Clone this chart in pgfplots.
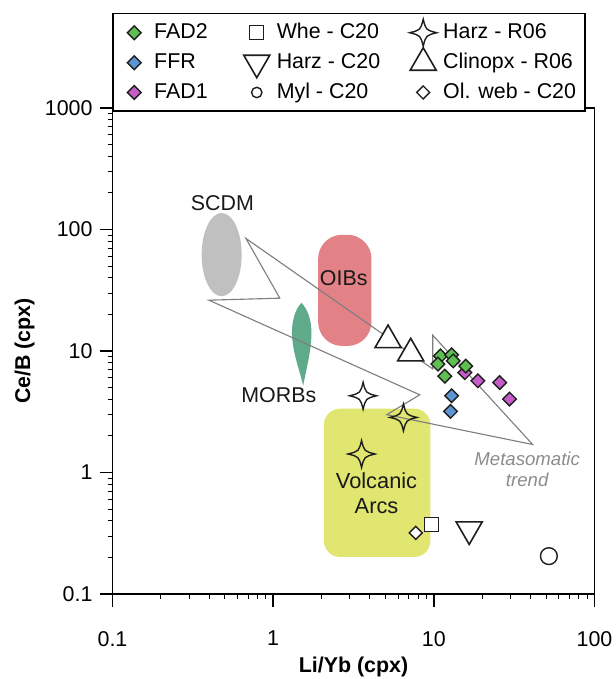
\documentclass[border=0pt]{standalone}
\usepackage{fontspec}
\setmainfont{Liberation Sans}
\usepackage{pgfplots}
\pgfplotsset{compat=1.18}

\definecolor{fadgreen}{RGB}{94,190,82}
\definecolor{ffrblue}{RGB}{92,150,210}
\definecolor{fadpurple}{RGB}{198,92,200}
\definecolor{scdmgray}{RGB}{192,192,192}
\definecolor{oibpink}{RGB}{226,130,134}
\definecolor{morbgreen}{RGB}{96,170,140}
\definecolor{arcyellow}{RGB}{224,230,112}
\definecolor{trendgray}{RGB}{125,125,125}
\definecolor{labelgray}{RGB}{140,140,140}
\definecolor{markline}{RGB}{30,30,30}

% four-pointed star with concave sides
\pgfdeclareplotmark{star4}{%
  \pgfpathmoveto{\pgfqpoint{0pt}{\pgfplotmarksize}}%
  \pgfpathcurveto{\pgfqpoint{0.2\pgfplotmarksize}{0.2\pgfplotmarksize}}{\pgfqpoint{0.2\pgfplotmarksize}{0.2\pgfplotmarksize}}{\pgfqpoint{\pgfplotmarksize}{0pt}}%
  \pgfpathcurveto{\pgfqpoint{0.2\pgfplotmarksize}{-0.2\pgfplotmarksize}}{\pgfqpoint{0.2\pgfplotmarksize}{-0.2\pgfplotmarksize}}{\pgfqpoint{0pt}{-\pgfplotmarksize}}%
  \pgfpathcurveto{\pgfqpoint{-0.2\pgfplotmarksize}{-0.2\pgfplotmarksize}}{\pgfqpoint{-0.2\pgfplotmarksize}{-0.2\pgfplotmarksize}}{\pgfqpoint{-\pgfplotmarksize}{0pt}}%
  \pgfpathcurveto{\pgfqpoint{-0.2\pgfplotmarksize}{0.2\pgfplotmarksize}}{\pgfqpoint{-0.2\pgfplotmarksize}{0.2\pgfplotmarksize}}{\pgfqpoint{0pt}{\pgfplotmarksize}}%
  \pgfpathclose
  \pgfusepathqstroke
}

\pgfplotsset{
  diam/.style={only marks, mark=square*, mark size=2.4pt,
    mark options={rotate=45, fill=#1, draw=markline, line width=0.7pt}},
  whe/.style={only marks, mark=square*, mark size=3.5pt,
    mark options={fill=white, draw=markline, line width=0.7pt}},
  harzc/.style={only marks, mark=triangle*, mark size=7.5pt,
    mark options={rotate=180, fill=white, draw=markline, line width=0.8pt}},
  myl/.style={only marks, mark=*, mark size=#1,
    mark options={fill=white, draw=markline, line width=0.7pt}},
  harzr/.style={only marks, mark=star4, mark size=6.75pt,
    mark options={draw=markline, line width=0.7pt}},
  clino/.style={only marks, mark=triangle*, mark size=7.5pt,
    mark options={fill=white, draw=markline, line width=0.8pt}},
  olweb/.style={only marks, mark=square*, mark size=2.3pt,
    mark options={rotate=45, fill=white, draw=markline, line width=0.7pt}},
}

\begin{document}
\begin{tikzpicture}[font=\fontsize{10.7}{12.8}\selectfont]
\begin{axis}[
  scale only axis, width=241pt, height=243pt,
  xmode=log, ymode=log,
  xmin=0.1, xmax=100, ymin=0.1, ymax=1000,
  xtick={0.1,1,10,100}, xticklabels={0.1,1,10,100},
  ytick={0.1,1,10,100,1000}, yticklabels={0.1,1,10,100,1000},
  minor xtick={0.2,0.3,0.4,0.5,0.6,0.7,0.8,0.9,2,3,4,5,6,7,8,9,20,30,40,50,60,70,80,90},
  minor ytick={0.2,0.3,0.4,0.5,0.6,0.7,0.8,0.9,2,3,4,5,6,7,8,9,20,30,40,50,60,70,80,90,200,300,400,500,600,700,800,900},
  tick align=outside, tick pos=left,
  major tick length=6.5pt, minor tick length=2.5pt,
  xticklabel style={yshift=-8.5pt},
  axis line style={line width=0.75pt},
  every tick/.style={black, line width=0.75pt},
  every minor tick/.style={black, line width=0.5pt},
  xlabel={\bfseries Li/Yb (cpx)}, ylabel={\bfseries Ce/B (cpx)},
  every axis x label/.style={at={([yshift=-36.5pt]axis description cs:0.5,0)}, anchor=center},
  every axis y label/.style={at={([xshift=-44pt]axis description cs:0,0.5)}, anchor=center, rotate=90},
  legend columns=3,
  legend cell align=left,
  legend image code/.code={%
    \node[draw=none, fill=none, anchor=center, inner sep=0pt, minimum width=16pt, minimum height=1pt] at (0pt,0pt) {};
    \draw[#1] plot coordinates {(0pt,0pt)};},
  legend style={at={([yshift=-2pt]axis description cs:0,1)}, anchor=south west,
    draw=black, line width=0.75pt, inner xsep=2.5pt, inner ysep=2.75pt,
    row sep=0.75pt,
    /tikz/column 2/.style={column sep=14.5pt},
    /tikz/column 4/.style={column sep=11.5pt},
    /tikz/column 6/.style={column sep=8pt},
    font=\fontsize{10.7}{12.8}\selectfont},
]
\coordinate (O) at (rel axis cs:0,0);

% compositional fields
\fill[scdmgray] (axis cs:0.478,62.1) ellipse [x radius=10pt, y radius=20.8pt];
\fill[oibpink, rounded corners=12pt] (axis cs:1.905,11.0) rectangle (axis cs:4.09,90.5);
\fill[arcyellow, rounded corners=8pt] (axis cs:2.07,0.202) rectangle (axis cs:9.52,3.35);
\begin{scope}[shift={(axis cs:1.50,24.9)}, x=0.5pt, y=-0.5pt]
  \fill[morbgreen] (0,0) .. controls (5,5) and (10,15) .. (10,30)
    .. controls (10,48) and (4,70) .. (1.7,83)
    .. controls (-1,70) and (-9.5,48) .. (-9.5,30)
    .. controls (-9.5,15) and (-5,5) .. (0,0) -- cycle;
\end{scope}

% metasomatic trend outline
\draw[trendgray, line width=0.55pt, line join=miter]
  (axis cs:0.677,84.4) -- (axis cs:1.10,27.2) -- (axis cs:0.398,26.2)
  -- (axis cs:8.17,4.36) -- (axis cs:5.09,2.99) -- (axis cs:41.2,1.70)
  -- (axis cs:9.84,13.5) -- (axis cs:9.84,7.12) -- cycle;

% legend entries
\addlegendimage{diam=fadgreen}\addlegendentry{FAD2}
\addlegendimage{whe}\addlegendentry{Whe - C20}
\addlegendimage{harzr}\addlegendentry{Harz - R06}
\addlegendimage{diam=ffrblue}\addlegendentry{FFR}
\addlegendimage{harzc}\addlegendentry{Harz - C20}
\addlegendimage{clino}\addlegendentry{Clinopx - R06}
\addlegendimage{diam=fadpurple}\addlegendentry{FAD1}
\addlegendimage{myl=2.6pt}\addlegendentry{Myl - C20}
\addlegendimage{olweb}\addlegendentry{Ol. web - C20}

% literature data
\addplot[clino, forget plot] coordinates {(5.19,12.3) (7.18,9.57)};
\addplot[harzr, forget plot] coordinates {(3.63,4.28) (6.47,2.84) (3.55,1.42)};
\addplot[whe, forget plot] coordinates {(9.66,0.373)};
\addplot[olweb, forget plot] coordinates {(7.72,0.318)};
\addplot[harzc, forget plot] coordinates {(16.6,0.340)};
\addplot[myl=4.2pt, forget plot] coordinates {(52.0,0.205)};

% this study
\addplot[diam=ffrblue, forget plot] coordinates {(12.9,4.28) (12.7,3.18)};
\addplot[diam=fadpurple, forget plot] coordinates {(15.6,6.64) (18.8,5.68) (25.7,5.50) (29.6,4.02)};
\addplot[diam=fadgreen, forget plot] coordinates {(11.0,9.1) (12.9,9.3) (10.6,7.8) (13.2,8.3) (15.8,7.5) (11.7,6.2)};

% field names
\node[text=black!90] at (axis cs:0.483,164) {SCDM};
\node[text=black!90] at (axis cs:2.75,39.9) {OIBs};
\node[text=black!90] at (axis cs:1.085,4.36) {MORBs};
\node[text=black!90, align=center, font=\fontsize{10.9}{12.8}\selectfont] at (axis cs:4.40,0.673) {Volcanic\\Arcs};
\node[text=labelgray, align=center, font=\fontsize{9.3}{10.5}\selectfont\itshape] at (axis cs:38.1,1.06) {Metasomatic\\trend};
\end{axis}
\pgfresetboundingbox
\path[use as bounding box] ([shift={(-56.25pt,-42.5pt)}]O) rectangle ([shift={(251.25pt,297pt)}]O);
\end{tikzpicture}
\end{document}
